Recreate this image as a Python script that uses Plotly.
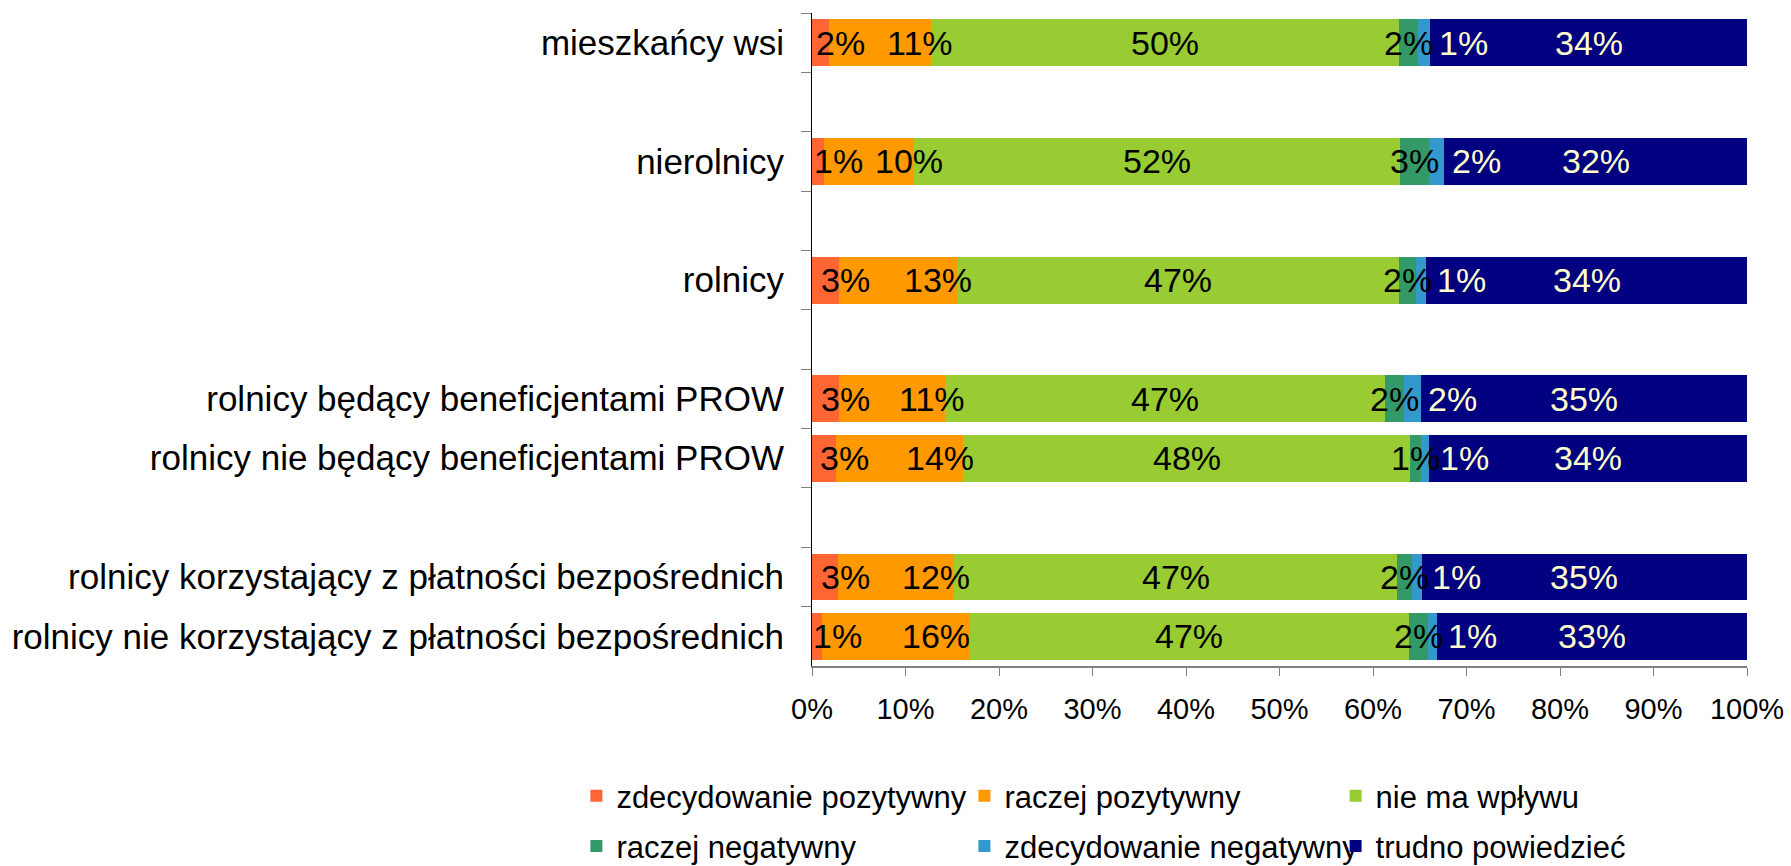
import plotly.graph_objects as go

# Groups of respondents, top to bottom
categories = [
    "mieszkańcy wsi",
    "nierolnicy",
    "rolnicy",
    "rolnicy będący beneficjentami PROW",
    "rolnicy nie będący beneficjentami PROW",
    "rolnicy korzystający z płatności bezpośrednich",
    "rolnicy nie korzystający z płatności bezpośrednich",
]

# Share of answers (%) per group
zdecydowanie_pozytywny = [1.8, 1.3, 2.9, 2.9, 2.6, 2.8, 1.1]
raczej_pozytywny = [10.9, 9.6, 12.6, 11.3, 13.6, 12.4, 15.7]
nie_ma_wplywu = [50.1, 52.0, 47.3, 47.1, 47.8, 47.4, 47.1]
raczej_negatywny = [2.0, 3.1, 1.8, 2.0, 1.1, 1.6, 2.0]
zdecydowanie_negatywny = [1.3, 1.6, 1.1, 1.8, 0.9, 1.0, 0.9]
trudno_powiedziec = [33.9, 32.4, 34.3, 34.9, 34.0, 34.8, 33.2]

series_names = [
    "zdecydowanie pozytywny",
    "raczej pozytywny",
    "nie ma wpływu",
    "raczej negatywny",
    "zdecydowanie negatywny",
    "trudno powiedzieć",
]
series_values = [
    zdecydowanie_pozytywny,
    raczej_pozytywny,
    nie_ma_wplywu,
    raczej_negatywny,
    zdecydowanie_negatywny,
    trudno_powiedziec,
]

x_ticks = list(range(0, 101, 10))
x_tick_labels = [f"{t}%" for t in x_ticks]

# Styling
FONT = "Liberation Sans, Arial, sans-serif"
colors = ["#FF6633", "#FF9900", "#99CC33", "#339966", "#3399CC", "#000080"]
label_colors = ["black", "black", "black", "black", "#FFFFCC", "#FFFFCC"]
label_nudge_px = [20, 40, 0, 0, 40, 0]
legend_ids = ["legend", "legend2", "legend3", "legend", "legend2", "legend3"]

# Category axis with empty spacer rows between the groups
axis_order = [
    categories[0], " ",
    categories[1], "  ",
    categories[2], "   ",
    categories[3], categories[4], "    ",
    categories[5], categories[6],
]

fig = go.Figure()
for i, (name, vals) in enumerate(zip(series_names, series_values)):
    fig.add_trace(go.Bar(
        y=categories,
        x=vals,
        name=name,
        orientation="h",
        marker=dict(color=colors[i], line=dict(width=0)),
        legend=legend_ids[i],
        legendgroup=name,
        hovertemplate="%{y}: %{x:.1f}%<extra>" + name + "</extra>",
    ))

# Value labels placed at the centre of each segment
annotations = []
for r, cat in enumerate(categories):
    start = 0.0
    for i, vals in enumerate(series_values):
        v = vals[r]
        annotations.append(dict(
            x=start + v / 2, y=cat, xref="x", yref="y",
            text=f"{int(v + 0.5)}%",
            showarrow=False,
            xshift=label_nudge_px[i],
            font=dict(family=FONT, size=34, color=label_colors[i]),
        ))
        start += v

legend_common = dict(
    orientation="v",
    xanchor="left", yanchor="top",
    font=dict(family=FONT, size=31, color="black"),
    bgcolor="rgba(0,0,0,0)",
    tracegroupgap=7,
    itemclick=False, itemdoubleclick=False,
)

legend_y = -0.158

fig.update_layout(
    width=1791, height=866,
    barmode="stack",
    bargap=0.21,
    paper_bgcolor="white",
    plot_bgcolor="white",
    margin=dict(l=812, r=44, t=13, b=200, autoexpand=False),
    font=dict(family=FONT, color="black"),
    annotations=annotations,
    showlegend=True,
    legend=dict(x=-0.252, y=legend_y, **legend_common),
    legend2=dict(x=0.163, y=legend_y, **legend_common),
    legend3=dict(x=0.560, y=legend_y, **legend_common),
    xaxis=dict(
        range=[0, 100],
        tickmode="array",
        tickvals=x_ticks,
        ticktext=x_tick_labels,
        showgrid=False,
        zeroline=False,
        showline=True,
        linecolor="#808080",
        linewidth=2,
        ticks="outside",
        ticklen=8,
        tickcolor="#808080",
        tickfont=dict(family=FONT, size=29, color="black"),
        ticklabelstandoff=8,
    ),
    yaxis=dict(
        type="category",
        categoryorder="array",
        categoryarray=axis_order,
        range=[len(axis_order) - 0.5, -0.5],
        tickson="boundaries",
        showgrid=False,
        zeroline=False,
        showline=True,
        linecolor="black",
        linewidth=1,
        ticks="outside",
        ticklen=10,
        tickcolor="#808080",
        tickfont=dict(family=FONT, size=35, color="black"),
        ticklabelstandoff=20,
    ),
)

fig.write_html("out.html")
